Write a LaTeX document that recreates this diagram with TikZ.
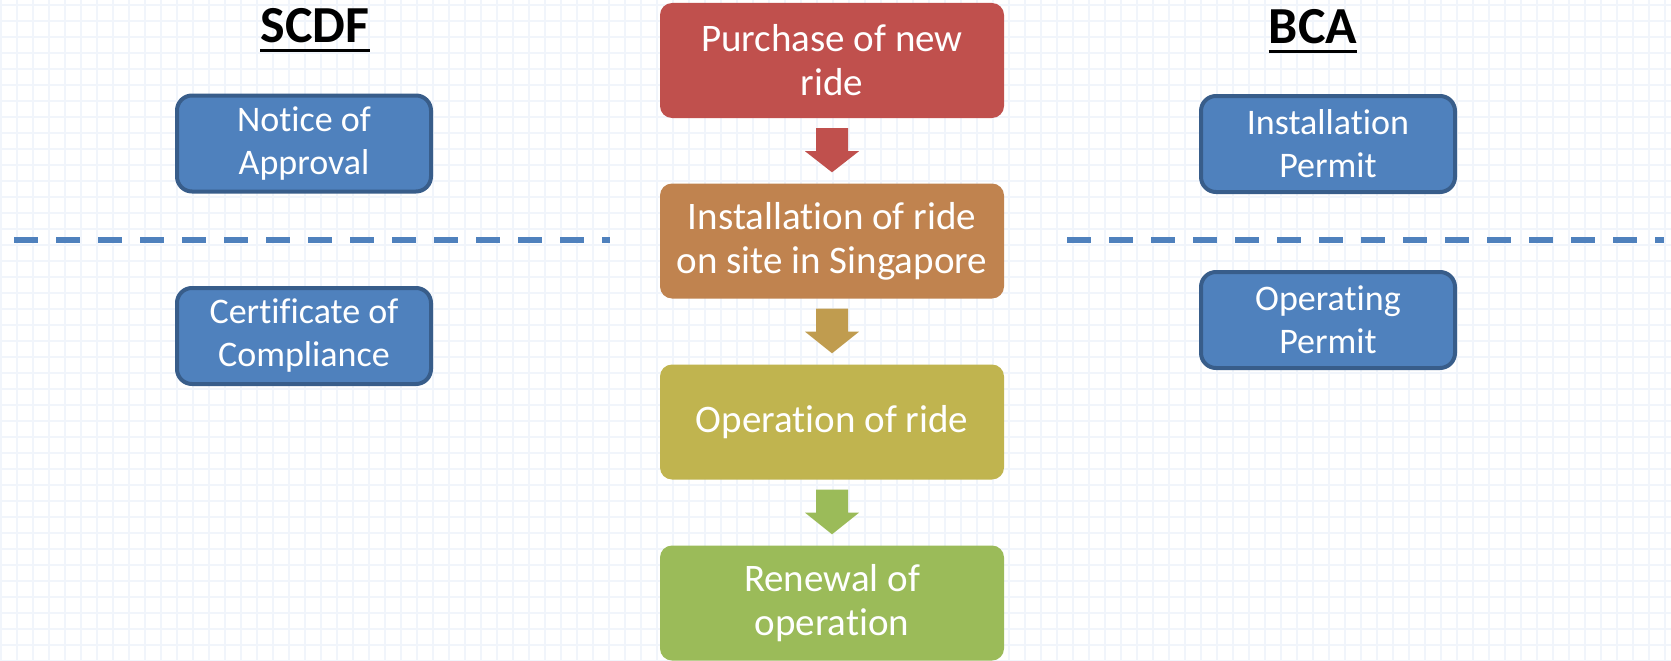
\documentclass[tikz,border=0pt]{standalone}
\usepackage{fontspec}
\setmainfont{Carlito}[Ligatures={NoCommon,NoContextual,NoRequired},RawFeature={-calt}]
\usetikzlibrary{calc}

\definecolor{boxblue}{HTML}{4F81BD}
\definecolor{boxedge}{HTML}{385D8A}
\definecolor{stageone}{HTML}{C0504D}
\definecolor{stagetwo}{HTML}{C0834F}
\definecolor{stagethree}{HTML}{C0B44F}
\definecolor{stagefour}{HTML}{9BBB59}
\definecolor{arrowtwo}{HTML}{C09C4F}
\definecolor{gridblue}{HTML}{F1F5FB}

\tikzset{
  agencybox/.style={draw=boxedge,line width=4pt,fill=boxblue,rounded corners=15pt,
    minimum width=254pt,minimum height=96pt,inner sep=0pt,text=white,align=center,
    font=\fontsize{36}{43}\selectfont},
  stagebox/.style={fill=#1,rounded corners=12pt,minimum width=344pt,minimum height=115pt,
    inner sep=0pt,text=white,align=center,font=\fontsize{39}{44}\selectfont},
  heading/.style={inner sep=0pt,anchor=base,font=\fontsize{52}{60}\selectfont\bfseries},
  sepline/.style={draw=boxblue,line width=6pt,dash pattern=on 24pt off 18pt},
}

% block arrow from one stage to the next
\newcommand{\stagearrow}[3]{%
  \fill[#3] ($(#1.south)+(-16,10)$) -- ($(#1.south)+(16,10)$) -- ($(#1.south)+(16,33)$)
    -- ($(#1.south)+(27,33)$) -- ($(#2.north)+(0,-11)$) -- ($(#1.south)+(-27,33)$)
    -- ($(#1.south)+(-16,33)$) -- cycle;}

\begin{document}
\begin{tikzpicture}[x=1pt,y=-1pt]
    \useasboundingbox (0,0) rectangle (1671,661);
    \fill[white] (0,0) rectangle (1671,661);
    \begin{scope}[shift={(1,5)}]
        \draw[gridblue,line width=1.5pt,step=16pt] (-1,-5) grid (1670,656);
    \end{scope}

    \node[heading] (scdf) at (315,43) {SCDF};
    \node[heading] (bca) at (1313,44) {BCA};
    \draw[line width=3pt] ($(scdf.base west)+(0,7.5)$) -- ($(scdf.base east)+(0,7.5)$);
    \draw[line width=3pt] ($(bca.base west)+(0,7.5)$) -- ($(bca.base east)+(0,7.5)$);

    \node[agencybox] (notice) at (304,143.5) {Notice of\\Approval};
    \node[agencybox] (compliance) at (304,336) {Certificate of\\Compliance};
    \node[agencybox] (instpermit) at (1328,144) {Installation\\Permit};
    \node[agencybox] (oppermit) at (1328,320) {Operating\\Permit};

    \node[stagebox=stageone] (purchase) at (832,60.5) {Purchase of new\\ride};
    \node[stagebox=stagetwo] (onsite) at (832,241) {Installation of ride\\on site in Singapore};
    \node[stagebox=stagethree] (operation) at (832,422) {Operation of ride};
    \node[stagebox=stagefour] (renewal) at (832,603) {Renewal of\\operation};

    \stagearrow{purchase}{onsite}{stageone}
    \stagearrow{onsite}{operation}{arrowtwo}
    \stagearrow{operation}{renewal}{stagefour}

    \draw[sepline] (14,240) -- (610,240);
    \draw[sepline] (1067,240) -- (1664,240);
\end{tikzpicture}
\end{document}
